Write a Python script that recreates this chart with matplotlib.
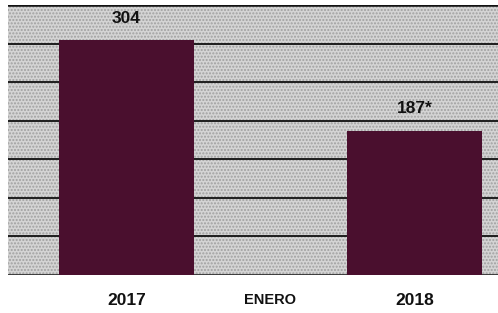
import matplotlib.pyplot as plt
import numpy as np

# Data
years = ["2017", "2018"]
values = [304, 187]
value_labels = ["304", "187*"]
tick_labels = ["2017", "ENERO", "2018"]
grid_levels = np.arange(0, 351, 50)

plt.rcParams['font.family'] = ['Liberation Sans', 'DejaVu Sans']

fig = plt.figure(figsize=(4.98, 3.13), dpi=100)
fig.patch.set_facecolor('white')
ax = fig.add_axes([8 / 498, 38 / 313, 490 / 498, 270 / 313])

# halftone-like gray background
ax.set_facecolor('#d4d4d4')
ax.axhspan(0, 350, facecolor='none', edgecolor='#a0a0a0', hatch='.....', linewidth=0, zorder=0)

bar_x = [0, 2]
ax.bar(bar_x, values, width=0.94, color='#4a0f2e', zorder=3)

for lvl in grid_levels:
    ax.axhline(lvl, color='#111111', linewidth=1.8 if lvl in (0, 350) else 1.3, zorder=2)

for x, v, lab in zip(bar_x, values, value_labels):
    ax.annotate(lab, (x, v), xytext=(0, 16), textcoords='offset points',
                ha='center', va='center', fontsize=12.5, fontweight='bold', color='#111111')

ax.set_xlim(-0.823, 2.58)
ax.set_ylim(0, 350)
ax.set_xticks([0, 1, 2])
ax.set_xticklabels(tick_labels, fontsize=12.5, fontweight='bold', color='#111111')
ax.get_xticklabels()[1].set_fontsize(10.5)
ax.tick_params(axis='x', length=0, pad=13)
ax.set_yticks([])
for s in ax.spines.values():
    s.set_visible(False)

fig.savefig("out.png", dpi=100)
